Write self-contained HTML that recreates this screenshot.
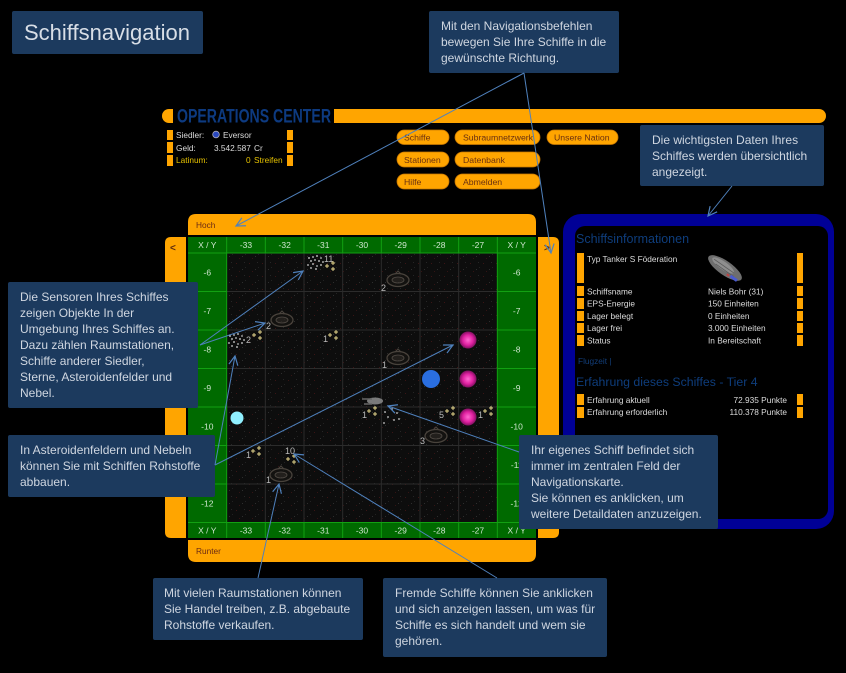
<!DOCTYPE html>
<html><head><meta charset="utf-8"><style>
html,body{margin:0;padding:0;background:#000;width:846px;height:673px;overflow:hidden;}
svg{display:block;}
text{font-family:"Liberation Sans",sans-serif;}
.c{font-size:12px;fill:#cfd6e0;}
.s{font-size:8.3px;fill:#dcdcdc;}
.b{font-size:8.7px;fill:#6a3010;}
.g{font-size:8.5px;fill:#cfe6cf;text-anchor:middle;}
.n{font-size:9px;fill:#bbbbbb;}
</style></head><body>
<svg width="846" height="673" viewBox="0 0 846 673" xmlns="http://www.w3.org/2000/svg">
<defs>
<marker id="ah" markerWidth="12" markerHeight="12" refX="10" refY="5" orient="auto" markerUnits="userSpaceOnUse">
<path d="M1,0.5 L10,5 L1,9.5" fill="none" stroke="#4f81bd" stroke-width="1.2"/>
</marker>
<pattern id="tex" width="13" height="13" patternUnits="userSpaceOnUse">
<rect width="13" height="13" fill="#0d0d0d"/>
<rect x="2" y="3" width="1" height="1" fill="#3a1515"/>
<rect x="8" y="9" width="1" height="1" fill="#2e2e2e"/>
<rect x="10" y="2" width="1" height="1" fill="#262626"/>
<rect x="5" y="11" width="1" height="1" fill="#331414"/>
<rect x="11" y="7" width="1" height="1" fill="#222"/>
</pattern>
<radialGradient id="neb" cx="50%" cy="50%" r="50%">
<stop offset="0" stop-color="#ff6ad0"/>
<stop offset="0.6" stop-color="#e020a0"/>
<stop offset="1" stop-color="#801060"/>
</radialGradient>
<g id="spark">
<path d="M0,-2 V2 M-2,0 H2" stroke="#e2d48a" stroke-width="1"/>
</g>
<g id="cluster">
<use href="#spark" x="1" y="3"/>
<use href="#spark" x="7" y="0"/>
<use href="#spark" x="7" y="6"/>
</g>
<g id="station" opacity="0.75">
<ellipse cx="0" cy="0" rx="11" ry="6.5" fill="#161412" stroke="#5e554c" stroke-width="1.3"/>
<ellipse cx="0" cy="0" rx="6" ry="3" fill="#2a2622" stroke="#6a625a" stroke-width="0.8"/>
<path d="M-3,-6 L0,-9 L3,-6" fill="none" stroke="#5e554c" stroke-width="1"/>
</g>
<g id="aster">
<circle cx="1" cy="2" r="0.9" fill="#ddd"/><circle cx="5" cy="1" r="0.9" fill="#ccc"/>
<circle cx="9" cy="0" r="0.9" fill="#ddd"/><circle cx="13" cy="2" r="0.9" fill="#bbb"/>
<circle cx="3" cy="5" r="0.9" fill="#ddd"/><circle cx="7" cy="4" r="0.9" fill="#ccc"/>
<circle cx="11" cy="5" r="0.9" fill="#ddd"/><circle cx="15" cy="6" r="0.9" fill="#ccc"/>
<circle cx="0" cy="9" r="0.9" fill="#ccc"/><circle cx="5" cy="8" r="0.9" fill="#ddd"/>
<circle cx="9" cy="10" r="0.9" fill="#bbb"/><circle cx="13" cy="9" r="0.9" fill="#ddd"/>
<circle cx="3" cy="12" r="0.9" fill="#ccc"/><circle cx="8" cy="13" r="0.9" fill="#ddd"/>
</g>
</defs>

<!-- Title -->
<rect x="12" y="11" width="191" height="43" rx="2" fill="#1c3a5e"/>
<text x="24" y="40" font-size="22" fill="#d8dee6">Schiffsnavigation</text>

<!-- Top callout -->
<rect x="429" y="11" width="190" height="62" rx="2" fill="#1c3a5e"/>
<text class="c" x="441" y="30">Mit den Navigationsbefehlen</text>
<text class="c" x="441" y="46">bewegen  Sie Ihre Schiffe in die</text>
<text class="c" x="441" y="62">gewünschte Richtung.</text>

<!-- Operations center header -->
<path d="M173,109 H169 A7,7 0 0 0 169,123 H173 Z" fill="#ffa500"/>
<text x="177" y="122.5" font-size="19" font-weight="bold" fill="#0d3a80" textLength="154" lengthAdjust="spacingAndGlyphs">OPERATIONS CENTER</text>
<path d="M334,109 H819 A7,7 0 0 1 819,123 H334 Z" fill="#ffa500"/>

<rect x="167" y="130" width="6" height="10" fill="#ffa500"/>
<rect x="167" y="142" width="6" height="11" fill="#ffa500"/>
<rect x="167" y="155" width="6" height="11" fill="#ffa500"/>
<rect x="287" y="130" width="6" height="10" fill="#ffa500"/>
<rect x="287" y="142" width="6" height="11" fill="#ffa500"/>
<rect x="287" y="155" width="6" height="11" fill="#ffa500"/>
<text class="s" x="176" y="138">Siedler:</text>
<circle cx="216" cy="134.5" r="3.3" fill="#2a48c0" stroke="#aab" stroke-width="0.8"/>
<text class="s" x="223" y="138">Eversor</text>
<text class="s" x="176" y="151">Geld:</text>
<text class="s" x="214" y="151">3.542.587</text>
<text class="s" x="254" y="151">Cr</text>
<text class="s" x="176" y="163" style="fill:#e6c200">Latinum:</text>
<text class="s" x="246" y="163" style="fill:#e6c200">0</text>
<text class="s" x="254" y="163" style="fill:#e6c200">Streifen</text>

<!-- Buttons -->
<g fill="#ffa500" stroke="#c87800" stroke-width="0.8">
<rect x="397" y="130" width="52" height="14.5" rx="7.2"/>
<rect x="455" y="130" width="85" height="14.5" rx="7.2"/>
<rect x="547" y="130" width="71" height="14.5" rx="7.2"/>
<rect x="397" y="152" width="52" height="15" rx="7.5"/>
<rect x="455" y="152" width="85" height="15" rx="7.5"/>
<rect x="397" y="174" width="52" height="15" rx="7.5"/>
<rect x="455" y="174" width="85" height="15" rx="7.5"/>
</g>
<text class="b" x="404" y="140.5">Schiffe</text>
<text class="b" x="463" y="140.5">Subraumnetzwerk</text>
<text class="b" x="554" y="140.5">Unsere Nation</text>
<text class="b" x="404" y="162.8">Stationen</text>
<text class="b" x="463" y="162.8">Datenbank</text>
<text class="b" x="404" y="184.8">Hilfe</text>
<text class="b" x="463" y="184.8">Abmelden</text>

<!-- Daten callout -->
<rect x="640" y="125" width="184" height="61" rx="2" fill="#1c3a5e"/>
<text class="c" x="652" y="144">Die wichtigsten Daten  Ihres</text>
<text class="c" x="652" y="160">Schiffes werden übersichtlich</text>
<text class="c" x="652" y="176">angezeigt.</text>

<!-- Navigation frame -->
<path d="M188,235 V222 Q188,214 196,214 H528 Q536,214 536,222 V235 Z" fill="#ffa500"/>
<text class="s" x="196" y="228" style="fill:#6a2a14">Hoch</text>
<path d="M186,237 H171 Q165,237 165,243 V532 Q165,538 171,538 H186 Z" fill="#ffa500"/>
<text x="170" y="251" font-size="10" font-weight="bold" fill="#5a2a10">&lt;</text>
<path d="M538,237 H553 Q559,237 559,243 V532 Q559,538 553,538 H538 Z" fill="#ffa500"/>
<text x="544" y="251" font-size="10" font-weight="bold" fill="#5a2a10">&gt;</text>
<path d="M188,540 H536 V554 Q536,562 528,562 H196 Q188,562 188,554 Z" fill="#ffa500"/>
<text class="s" x="196" y="554" style="fill:#6a2a14">Runter</text>

<rect x="188" y="237" width="348" height="301" fill="#006a00"/>
<rect x="226.67" y="253" width="270.66" height="269.5" fill="url(#tex)"/>
<g stroke="#2c2c2c" stroke-width="1">
<line x1="265.33" y1="253" x2="265.33" y2="522.5"/>
<line x1="304" y1="253" x2="304" y2="522.5"/>
<line x1="342.67" y1="253" x2="342.67" y2="522.5"/>
<line x1="381.33" y1="253" x2="381.33" y2="522.5"/>
<line x1="420" y1="253" x2="420" y2="522.5"/>
<line x1="458.67" y1="253" x2="458.67" y2="522.5"/>
<line x1="226.67" y1="291.5" x2="497.33" y2="291.5"/>
<line x1="226.67" y1="330" x2="497.33" y2="330"/>
<line x1="226.67" y1="368.5" x2="497.33" y2="368.5"/>
<line x1="226.67" y1="407" x2="497.33" y2="407"/>
<line x1="226.67" y1="445.5" x2="497.33" y2="445.5"/>
<line x1="226.67" y1="484" x2="497.33" y2="484"/>
</g>
<g stroke="#12a012" stroke-width="1">
<line x1="188" y1="253" x2="536" y2="253"/>
<line x1="188" y1="522.5" x2="536" y2="522.5"/>
<line x1="226.67" y1="237" x2="226.67" y2="538"/>
<line x1="497.33" y1="237" x2="497.33" y2="538"/>
<line x1="265.33" y1="237" x2="265.33" y2="253"/><line x1="265.33" y1="522.5" x2="265.33" y2="538"/>
<line x1="304" y1="237" x2="304" y2="253"/><line x1="304" y1="522.5" x2="304" y2="538"/>
<line x1="342.67" y1="237" x2="342.67" y2="253"/><line x1="342.67" y1="522.5" x2="342.67" y2="538"/>
<line x1="381.33" y1="237" x2="381.33" y2="253"/><line x1="381.33" y1="522.5" x2="381.33" y2="538"/>
<line x1="420" y1="237" x2="420" y2="253"/><line x1="420" y1="522.5" x2="420" y2="538"/>
<line x1="458.67" y1="237" x2="458.67" y2="253"/><line x1="458.67" y1="522.5" x2="458.67" y2="538"/>
<line x1="188" y1="291.5" x2="226.67" y2="291.5"/><line x1="497.33" y1="291.5" x2="536" y2="291.5"/>
<line x1="188" y1="330" x2="226.67" y2="330"/><line x1="497.33" y1="330" x2="536" y2="330"/>
<line x1="188" y1="368.5" x2="226.67" y2="368.5"/><line x1="497.33" y1="368.5" x2="536" y2="368.5"/>
<line x1="188" y1="407" x2="226.67" y2="407"/><line x1="497.33" y1="407" x2="536" y2="407"/>
<line x1="188" y1="445.5" x2="226.67" y2="445.5"/><line x1="497.33" y1="445.5" x2="536" y2="445.5"/>
<line x1="188" y1="484" x2="226.67" y2="484"/><line x1="497.33" y1="484" x2="536" y2="484"/>
</g>
<!-- header labels -->
<g>
<text class="g" x="207.3" y="248">X / Y</text>
<text class="g" x="246" y="248">-33</text>
<text class="g" x="284.7" y="248">-32</text>
<text class="g" x="323.3" y="248">-31</text>
<text class="g" x="362" y="248">-30</text>
<text class="g" x="400.7" y="248">-29</text>
<text class="g" x="439.3" y="248">-28</text>
<text class="g" x="478" y="248">-27</text>
<text class="g" x="516.7" y="248">X / Y</text>
<text class="g" x="207.3" y="533.5">X / Y</text>
<text class="g" x="246" y="533.5">-33</text>
<text class="g" x="284.7" y="533.5">-32</text>
<text class="g" x="323.3" y="533.5">-31</text>
<text class="g" x="362" y="533.5">-30</text>
<text class="g" x="400.7" y="533.5">-29</text>
<text class="g" x="439.3" y="533.5">-28</text>
<text class="g" x="478" y="533.5">-27</text>
<text class="g" x="516.7" y="533.5">X / Y</text>
<text class="g" x="207.3" y="275.3">-6</text><text class="g" x="516.7" y="275.3">-6</text>
<text class="g" x="207.3" y="313.8">-7</text><text class="g" x="516.7" y="313.8">-7</text>
<text class="g" x="207.3" y="352.3">-8</text><text class="g" x="516.7" y="352.3">-8</text>
<text class="g" x="207.3" y="390.8">-9</text><text class="g" x="516.7" y="390.8">-9</text>
<text class="g" x="207.3" y="429.3">-10</text><text class="g" x="516.7" y="429.3">-10</text>
<text class="g" x="207.3" y="467.8">-11</text><text class="g" x="516.7" y="467.8">-11</text>
<text class="g" x="207.3" y="506.3">-12</text><text class="g" x="516.7" y="506.3">-12</text>
</g>

<!-- map objects -->
<use href="#aster" x="308" y="256"/>
<text class="n" x="324" y="262">11</text>
<use href="#cluster" x="326" y="263"/>
<use href="#station" x="282" y="320"/>
<text class="n" x="266" y="329">2</text>
<use href="#aster" x="229" y="334"/>
<text class="n" x="246" y="343">2</text>
<use href="#cluster" x="253" y="332"/>
<text class="n" x="323" y="342">1</text>
<use href="#cluster" x="329" y="332"/>
<use href="#station" x="398" y="280"/>
<text class="n" x="381" y="291">2</text>
<use href="#station" x="398" y="358"/>
<text class="n" x="382" y="368">1</text>
<circle cx="468" cy="340" r="8.5" fill="url(#neb)"/>
<circle cx="431" cy="379" r="9" fill="#2a6ee0"/>
<circle cx="468" cy="379" r="8.5" fill="url(#neb)"/>
<circle cx="237" cy="418" r="6.5" fill="#90f0ff"/>
<!-- own ship -->
<ellipse cx="375" cy="401" rx="8" ry="3.5" fill="#7a7a7a"/>
<path d="M362,399 H372 M364,404 H372" stroke="#666" stroke-width="1.5"/>
<text class="n" x="362" y="418">1</text>
<use href="#cluster" x="368" y="408"/>
<g fill="#ccc">
<circle cx="385" cy="412" r="0.9"/><circle cx="392" cy="409" r="0.9"/><circle cx="397" cy="413" r="0.9"/>
<circle cx="388" cy="417" r="0.9"/><circle cx="394" cy="420" r="0.9"/><circle cx="384" cy="423" r="0.9"/>
<circle cx="399" cy="419" r="0.9"/>
</g>
<text class="n" x="439" y="418">5</text>
<use href="#cluster" x="446" y="408"/>
<circle cx="468" cy="417" r="8.5" fill="url(#neb)"/>
<text class="n" x="478" y="418">1</text>
<use href="#cluster" x="484" y="408"/>
<use href="#station" x="436" y="436"/>
<text class="n" x="420" y="444">3</text>
<text class="n" x="246" y="458">1</text>
<use href="#cluster" x="252" y="448"/>
<text class="n" x="285" y="454">10</text>
<use href="#cluster" x="287" y="456"/>
<use href="#station" x="281" y="475"/>
<text class="n" x="266" y="483">1</text>

<!-- Right panel -->
<rect x="563" y="214" width="271" height="315" rx="18" fill="#000096"/>
<rect x="575" y="226" width="253" height="293" rx="10" fill="#000"/>
<text x="576" y="243" font-size="12.5" fill="#0e3d7c">Schiffsinformationen</text>
<g fill="#ffa500">
<rect x="577" y="253" width="7" height="30"/><rect x="797" y="253" width="6" height="30"/>
<rect x="577" y="286" width="7" height="10"/><rect x="797" y="286" width="6" height="10"/>
<rect x="577" y="298" width="7" height="11"/><rect x="797" y="298" width="6" height="11"/>
<rect x="577" y="311" width="7" height="10"/><rect x="797" y="311" width="6" height="10"/>
<rect x="577" y="323" width="7" height="10"/><rect x="797" y="323" width="6" height="10"/>
<rect x="577" y="335" width="7" height="11"/><rect x="797" y="335" width="6" height="11"/>
<rect x="577" y="394" width="7" height="11"/><rect x="797" y="394" width="6" height="11"/>
<rect x="577" y="407" width="7" height="11"/><rect x="797" y="407" width="6" height="11"/>
</g>
<text class="s" x="587" y="262">Typ Tanker S Föderation</text>
<g transform="translate(725,268) rotate(35)">
<ellipse cx="0" cy="0" rx="20" ry="7" fill="#6e6e6e"/>
<ellipse cx="-3" cy="-1" rx="13" ry="4" fill="#8e8e8e"/>
<path d="M-14,-1 H10 M-10,2 H12" stroke="#5a5a5a" stroke-width="0.8"/>
<rect x="9" y="2" width="8" height="3" fill="#4a5ad0"/>
<rect x="5" y="3" width="3" height="2" fill="#c04040"/>
</g>
<text class="s" x="587" y="294.5">Schiffsname</text><text class="s" x="708" y="294.5">Niels Bohr (31)</text>
<text class="s" x="587" y="306.5">EPS-Energie</text><text class="s" x="708" y="306.5">150 Einheiten</text>
<text class="s" x="587" y="319">Lager belegt</text><text class="s" x="708" y="319">0 Einheiten</text>
<text class="s" x="587" y="331">Lager frei</text><text class="s" x="708" y="331">3.000 Einheiten</text>
<text class="s" x="587" y="343.5">Status</text><text class="s" x="708" y="343.5">In Bereitschaft</text>
<text class="s" x="578" y="364" style="fill:#123e7a">Flugzeit |</text>
<text x="576" y="386" font-size="12.3" fill="#0e3d7c">Erfahrung dieses Schiffes - Tier 4</text>
<text class="s" x="587" y="403">Erfahrung aktuell</text>
<text class="s" x="787" y="403" text-anchor="end">72.935 Punkte</text>
<text class="s" x="587" y="415">Erfahrung erforderlich</text>
<text class="s" x="787" y="415" text-anchor="end">110.378 Punkte</text>

<!-- Callouts -->
<rect x="8" y="282" width="190" height="126" rx="2" fill="#1c3a5e"/>
<text class="c" x="20" y="301">Die Sensoren Ihres Schiffes</text>
<text class="c" x="20" y="317">zeigen  Objekte  In der</text>
<text class="c" x="20" y="333">Umgebung  Ihres Schiffes an.</text>
<text class="c" x="20" y="349">Dazu zählen Raumstationen,</text>
<text class="c" x="20" y="365">Schiffe anderer Siedler,</text>
<text class="c" x="20" y="381">Sterne,  Asteroidenfelder und</text>
<text class="c" x="20" y="397">Nebel.</text>

<rect x="8" y="435" width="207" height="62" rx="2" fill="#1c3a5e"/>
<text class="c" x="20" y="454">In Asteroidenfeldern  und Nebeln</text>
<text class="c" x="20" y="470">können  Sie mit Schiffen Rohstoffe</text>
<text class="c" x="20" y="486">abbauen.</text>

<rect x="519" y="435" width="199" height="94" rx="2" fill="#1c3a5e"/>
<text class="c" x="531" y="454">Ihr eigenes Schiff befindet sich</text>
<text class="c" x="531" y="470">immer  im zentralen Feld der</text>
<text class="c" x="531" y="486">Navigationskarte.</text>
<text class="c" x="531" y="502">Sie können es anklicken, um</text>
<text class="c" x="531" y="518">weitere  Detaildaten anzuzeigen.</text>

<rect x="153" y="578" width="210" height="62" rx="2" fill="#1c3a5e"/>
<text class="c" x="164" y="597">Mit vielen Raumstationen können</text>
<text class="c" x="164" y="613">Sie Handel treiben, z.B.  abgebaute</text>
<text class="c" x="164" y="629">Rohstoffe verkaufen.</text>

<rect x="383" y="578" width="224" height="79" rx="2" fill="#1c3a5e"/>
<text class="c" x="395" y="597">Fremde  Schiffe können  Sie anklicken</text>
<text class="c" x="395" y="613">und sich anzeigen lassen, um was für</text>
<text class="c" x="395" y="629">Schiffe es sich handelt und wem  sie</text>
<text class="c" x="395" y="645">gehören.</text>

<!-- Connectors -->
<g stroke="#4f81bd" stroke-width="1" fill="none" marker-end="url(#ah)">
<line x1="524" y1="73" x2="236" y2="226"/>
<line x1="524" y1="73" x2="551" y2="253"/>
<line x1="732" y1="186" x2="708" y2="216"/>
<line x1="200" y1="345" x2="303" y2="271"/>
<line x1="200" y1="345" x2="265" y2="323"/>
<line x1="215" y1="465" x2="235" y2="356"/>
<line x1="215" y1="465" x2="453" y2="345"/>
<line x1="519" y1="452" x2="388" y2="406"/>
<line x1="258" y1="578" x2="279" y2="484"/>
<line x1="497" y1="578" x2="294" y2="454"/>
</g>
</svg>
</body></html>
